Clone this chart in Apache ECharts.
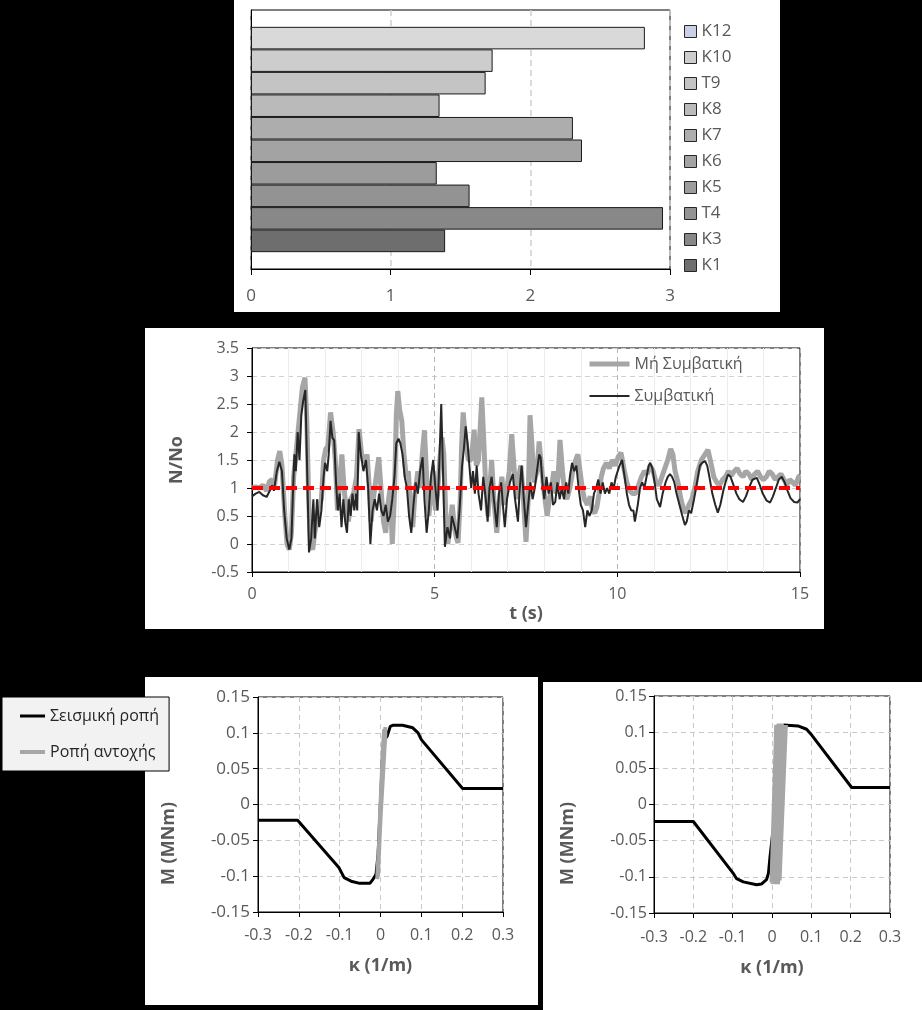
<!DOCTYPE html>
<html><head><meta charset="utf-8">
<script src="https://cdn.jsdelivr.net/npm/echarts@6/dist/echarts.min.js"></script>
<style>html,body{margin:0;padding:0;background:#000}#c{width:922px;height:1010px}</style>
</head><body><div id="c"></div><script>
const FONT = '"Open Sans", "Noto Sans", "DejaVu Sans", sans-serif';

// ---------- Panel 1: bars (top to bottom) ----------
const barNames  = ['K12','K10','T9','K8','K7','K6','K5','T4','K3','K1'];
const barValues = [2.82, 1.73, 1.68, 1.35, 2.305, 2.37, 1.33, 1.565, 2.95, 1.39];
const barColors = ['#d9d9d9','#cdcdcd','#c4c4c4','#bababa','#adadad','#a3a3a3','#9c9c9c','#939393','#888888','#6e6e6e'];

// ---------- Panel 2: N/No time histories ----------
const seriesNamesT = ['Μή Συμβατική','Συμβατική'];
const greyT = [[0,1.0],[0.1,1.02],[0.2,1.0],[0.3,1.05],[0.4,0.95],[0.48,1.12],[0.55,1.15],[0.62,1.05],[0.7,1.5],[0.76,1.66],[0.82,1.4],[0.9,0.5],[0.96,0.0],[1.02,-0.1],[1.08,0.2],[1.14,1.2],[1.2,1.6],[1.26,2.0],[1.32,2.4],[1.38,2.8],[1.45,2.97],[1.5,2.2],[1.55,0.8],[1.6,0.0],[1.66,-0.1],[1.72,0.2],[1.78,0.5],[1.84,0.7],[1.9,0.8],[1.96,1.5],[2.02,1.7],[2.08,1.75],[2.15,2.35],[2.22,2.0],[2.28,1.5],[2.34,0.6],[2.4,1.1],[2.46,1.6],[2.52,1.0],[2.58,0.6],[2.64,0.4],[2.7,0.8],[2.78,0.9],[2.86,1.2],[2.93,2.05],[3.0,1.6],[3.08,1.45],[3.15,1.6],[3.2,1.1],[3.26,0.4],[3.32,0.8],[3.4,1.2],[3.47,1.55],[3.53,1.0],[3.6,0.4],[3.66,0.2],[3.72,0.7],[3.78,1.0],[3.84,0.0],[3.9,0.9],[3.95,2.3],[3.99,2.73],[4.04,2.4],[4.1,2.2],[4.16,1.6],[4.22,1.2],[4.28,1.3],[4.34,0.6],[4.4,0.3],[4.46,0.9],[4.54,1.3],[4.6,1.0],[4.66,1.6],[4.72,2.03],[4.78,1.2],[4.84,0.5],[4.9,0.9],[4.96,1.3],[5.02,0.6],[5.08,0.9],[5.14,1.5],[5.2,1.9],[5.25,1.6],[5.3,0.6],[5.36,0.0],[5.42,0.3],[5.48,0.7],[5.54,0.3],[5.6,0.1],[5.64,0.02],[5.7,0.8],[5.74,1.8],[5.78,2.35],[5.84,1.9],[5.92,1.5],[6.0,1.5],[6.08,2.04],[6.14,1.4],[6.2,1.5],[6.24,2.0],[6.29,2.62],[6.34,1.9],[6.4,1.0],[6.46,0.5],[6.56,1.5],[6.62,0.8],[6.7,0.2],[6.76,0.7],[6.84,1.2],[6.9,0.7],[6.96,0.9],[7.04,1.3],[7.11,1.96],[7.18,1.3],[7.24,0.8],[7.3,1.2],[7.36,1.4],[7.42,0.9],[7.5,0.04],[7.56,0.8],[7.61,2.3],[7.66,1.8],[7.72,1.1],[7.8,1.3],[7.86,1.83],[7.92,1.4],[8.0,0.9],[8.08,0.5],[8.14,0.8],[8.2,1.0],[8.26,1.3],[8.32,0.9],[8.38,1.2],[8.43,1.86],[8.5,1.3],[8.56,0.9],[8.62,0.8],[8.7,1.0],[8.78,1.3],[8.86,1.5],[8.92,1.6],[8.98,1.3],[9.04,1.0],[9.1,0.8],[9.18,0.7],[9.26,0.85],[9.32,0.6],[9.38,0.55],[9.44,0.66],[9.5,0.9],[9.56,1.2],[9.62,1.35],[9.7,1.45],[9.78,1.35],[9.86,1.5],[9.94,1.4],[10.02,1.55],[10.1,1.63],[10.18,1.35],[10.26,1.1],[10.34,0.95],[10.42,0.9],[10.5,0.9],[10.58,1.05],[10.66,1.2],[10.74,1.3],[10.82,1.25],[10.9,1.4],[10.98,1.3],[11.06,1.1],[11.14,1.05],[11.22,1.2],[11.3,1.35],[11.38,1.5],[11.46,1.7],[11.52,1.6],[11.58,1.3],[11.66,1.1],[11.74,0.8],[11.82,0.6],[11.88,0.56],[11.96,0.7],[12.04,0.8],[12.12,1.0],[12.2,1.3],[12.3,1.5],[12.4,1.6],[12.48,1.68],[12.56,1.45],[12.64,1.2],[12.72,1.1],[12.8,1.05],[12.88,1.15],[12.96,1.2],[13.04,1.3],[13.12,1.22],[13.2,1.3],[13.28,1.35],[13.36,1.25],[13.44,1.2],[13.52,1.3],[13.6,1.25],[13.68,1.15],[13.76,1.25],[13.84,1.3],[13.92,1.2],[14.0,1.15],[14.08,1.2],[14.16,1.3],[14.24,1.25],[14.32,1.15],[14.4,1.2],[14.48,1.25],[14.56,1.15],[14.64,1.05],[14.72,1.15],[14.8,1.1],[14.88,1.05],[14.96,1.2],[15.0,1.22]];
const blackT = [[0,0.85],[0.1,0.9],[0.2,0.93],[0.3,0.87],[0.4,0.84],[0.5,0.97],[0.55,1.05],[0.6,0.95],[0.68,1.3],[0.75,1.47],[0.82,1.3],[0.88,0.6],[0.95,0.1],[1.02,-0.1],[1.08,0.1],[1.12,0.9],[1.16,1.6],[1.2,1.3],[1.25,2.0],[1.3,1.5],[1.35,2.3],[1.4,2.55],[1.46,2.75],[1.5,1.6],[1.56,-0.15],[1.62,0.1],[1.68,0.8],[1.72,0.1],[1.78,0.8],[1.84,0.3],[1.9,0.6],[1.96,1.2],[2.0,1.45],[2.06,1.3],[2.1,1.6],[2.15,2.2],[2.2,1.9],[2.25,1.85],[2.3,1.1],[2.35,0.6],[2.4,0.9],[2.45,0.3],[2.5,0.8],[2.55,0.4],[2.6,0.2],[2.65,0.8],[2.7,0.5],[2.75,0.9],[2.8,0.6],[2.85,0.9],[2.88,0.6],[2.92,2.0],[2.98,1.6],[3.05,1.3],[3.12,1.5],[3.18,1.0],[3.24,0.0],[3.3,0.6],[3.36,0.8],[3.42,0.6],[3.48,0.9],[3.54,0.6],[3.6,0.5],[3.66,0.7],[3.72,0.4],[3.78,0.5],[3.84,0.8],[3.9,1.2],[3.95,1.8],[4.01,1.88],[4.06,1.8],[4.12,1.6],[4.18,1.2],[4.24,1.0],[4.3,0.5],[4.36,0.2],[4.42,0.7],[4.48,1.1],[4.54,0.9],[4.6,1.3],[4.67,1.55],[4.72,0.8],[4.78,0.2],[4.84,0.6],[4.9,1.2],[4.96,1.5],[5.02,1.0],[5.08,0.6],[5.13,1.5],[5.18,2.5],[5.22,1.5],[5.28,-0.05],[5.35,0.3],[5.42,0.1],[5.47,0.5],[5.55,0.3],[5.62,0.1],[5.68,0.6],[5.75,1.4],[5.8,1.7],[5.85,2.1],[5.9,1.8],[5.95,1.4],[6.0,1.0],[6.05,1.3],[6.1,0.9],[6.15,1.4],[6.2,0.9],[6.27,0.6],[6.33,1.2],[6.4,0.8],[6.45,0.4],[6.5,1.0],[6.56,1.2],[6.62,0.8],[6.7,0.3],[6.76,0.9],[6.82,1.1],[6.88,0.6],[6.92,0.3],[6.98,0.8],[7.06,1.1],[7.14,1.25],[7.2,0.8],[7.28,0.4],[7.33,1.0],[7.38,1.4],[7.44,0.8],[7.5,0.3],[7.56,0.7],[7.62,1.1],[7.68,0.8],[7.74,1.0],[7.8,1.3],[7.86,1.6],[7.9,1.55],[7.95,1.1],[8.0,0.8],[8.06,1.2],[8.12,0.9],[8.18,1.1],[8.24,0.7],[8.3,0.75],[8.36,1.1],[8.42,0.8],[8.48,1.0],[8.54,0.8],[8.6,1.1],[8.66,0.9],[8.7,1.2],[8.76,1.45],[8.82,1.3],[8.88,1.4],[8.94,1.0],[9.0,0.7],[9.06,0.6],[9.12,0.3],[9.18,0.6],[9.24,0.5],[9.3,0.6],[9.36,0.9],[9.42,1.0],[9.48,1.15],[9.54,0.9],[9.6,1.1],[9.66,0.9],[9.72,1.0],[9.78,0.9],[9.84,1.1],[9.9,1.0],[9.96,1.2],[10.06,1.4],[10.13,1.5],[10.2,1.2],[10.26,0.9],[10.32,0.7],[10.38,0.6],[10.44,0.6],[10.48,0.4],[10.56,0.7],[10.62,1.0],[10.68,1.1],[10.74,1.0],[10.8,1.2],[10.86,1.4],[10.9,1.45],[10.96,1.35],[11.02,1.1],[11.08,0.8],[11.17,0.66],[11.24,0.9],[11.32,1.1],[11.38,1.2],[11.44,1.25],[11.5,1.2],[11.56,1.1],[11.62,0.9],[11.7,0.7],[11.78,0.5],[11.85,0.34],[11.9,0.4],[11.96,0.6],[12.02,0.55],[12.1,0.8],[12.18,1.1],[12.26,1.4],[12.32,1.45],[12.4,1.48],[12.46,1.4],[12.52,1.2],[12.6,0.9],[12.68,0.7],[12.75,0.56],[12.82,0.7],[12.9,0.95],[12.96,1.1],[13.03,1.24],[13.1,1.2],[13.18,1.05],[13.26,0.9],[13.34,0.8],[13.44,0.75],[13.52,0.85],[13.6,1.0],[13.7,1.15],[13.82,1.18],[13.9,1.05],[13.98,0.9],[14.08,0.78],[14.18,0.74],[14.26,0.85],[14.34,1.0],[14.42,1.15],[14.5,1.2],[14.58,1.1],[14.66,0.95],[14.74,0.82],[14.84,0.75],[14.93,0.74],[15.0,0.8]];
const refLine = [[0,1],[15,1]];

// ---------- Panels 3 & 4: moment-curvature ----------
const seriesNamesM = ['Σεισμική ροπή','Ροπή αντοχής'];
const blackM1 = [[-0.3,-0.022],[-0.203,-0.022],[-0.102,-0.088],[-0.089,-0.102],[-0.072,-0.107],[-0.051,-0.11],[-0.026,-0.11],[-0.018,-0.104],[-0.011,-0.0975],[-0.006,-0.07],[-0.002,-0.02],[0.002,0.03],[0.004,0.06],[0.008,0.09],[0.016,0.095],[0.024,0.109],[0.03,0.1105],[0.054,0.1105],[0.079,0.107],[0.092,0.1],[0.1,0.0905],[0.201,0.0223],[0.3,0.0223]];
const greyM1 = [[-0.006,-0.1],[-0.002,-0.04],[0.0,0.0],[0.003,0.04],[0.006,0.08],[0.009,0.105],[0.012,0.1],[0.007,0.05],[0.002,0.0],[-0.003,-0.05],[-0.007,-0.09],[-0.008,-0.104],[-0.004,-0.07],[0.0,-0.02],[0.004,0.03],[0.008,0.07],[0.012,0.108],[0.01,0.09],[0.004,0.04],[-0.001,-0.01],[-0.005,-0.08],[-0.003,-0.06],[0.002,0.02],[0.006,0.06],[0.01,0.1]];
const blackM2 = [[-0.3,-0.0235],[-0.2,-0.0235],[-0.099,-0.0948],[-0.09,-0.1026],[-0.073,-0.107],[-0.039,-0.111],[-0.027,-0.11],[-0.014,-0.104],[-0.009,-0.095],[-0.005,-0.072],[0.01,0.0],[0.03,0.11],[0.034,0.112],[0.066,0.1086],[0.088,0.104],[0.101,0.096],[0.2025,0.0235],[0.3,0.0235]];
const greyM2 = [[0.0,-0.108],[0.012,0.11],[0.003,-0.11],[0.018,0.112],[0.006,-0.11],[0.024,0.112],[0.01,-0.108],[0.03,0.11],[0.014,-0.11],[0.034,0.11],[0.018,-0.105],[0.028,0.108],[0.008,-0.1],[0.02,0.1],[0.002,-0.09],[0.016,0.105],[0.012,-0.11],[0.026,0.11],[0.005,-0.105],[0.022,0.108]];

const LBL = '#595959';
const fmt2 = v => String(Math.round(v * 100) / 100);

function valAxis(grid, o) {
  return Object.assign({
    type: 'value', gridIndex: grid,
    axisLine: { show: true, onZero: false, lineStyle: { color: '#000', width: 1 } },
    axisTick: { show: true, length: 5, lineStyle: { color: '#000' } },
    axisLabel: { color: LBL, fontSize: 16, fontFamily: FONT },
    splitLine: { show: true, lineStyle: { color: '#c8c8c8', type: [5, 4], width: 1 } },
    nameTextStyle: { color: LBL, fontSize: 18, fontWeight: 'bold', fontFamily: FONT },
    nameLocation: 'middle'
  }, o);
}
const nameStyleShift = { color: LBL, fontSize: 18, fontWeight: 'bold', fontFamily: FONT, padding: [0, 78, 0, 0] };

const chart = echarts.init(document.getElementById('c'), null, { renderer: 'canvas' });

const series = [];
barNames.forEach((n, i) => series.push({
  type: 'bar', name: n, xAxisIndex: 0, yAxisIndex: 0,
  data: [barValues[i]], barGap: '0%', barCategoryGap: '13%',
  itemStyle: { color: barColors[i], borderColor: '#1a1a1a', borderWidth: 1 },
  silent: true
}));
series.push({ type: 'line', name: seriesNamesT[0], xAxisIndex: 1, yAxisIndex: 1, data: greyT,
  symbol: 'none', lineStyle: { color: '#a6a6a6', width: 5 }, itemStyle: { color: '#a6a6a6' }, z: 2 });
series.push({ type: 'line', name: seriesNamesT[1], xAxisIndex: 1, yAxisIndex: 1, data: blackT,
  symbol: 'none', lineStyle: { color: '#262626', width: 2 }, itemStyle: { color: '#262626' }, z: 3 });
series.push({ type: 'line', name: 'ref', xAxisIndex: 1, yAxisIndex: 1, data: refLine,
  symbol: 'none', lineStyle: { color: '#ff0000', width: 4, type: [11, 6] }, z: 4 });
series.push({ type: 'line', name: seriesNamesM[0], xAxisIndex: 2, yAxisIndex: 2, data: blackM1,
  symbol: 'none', lineStyle: { color: '#000', width: 3 }, itemStyle: { color: '#000' }, z: 2 });
series.push({ type: 'line', name: seriesNamesM[1], xAxisIndex: 2, yAxisIndex: 2, data: greyM1,
  symbol: 'none', lineStyle: { color: '#a6a6a6', width: 4 }, itemStyle: { color: '#a6a6a6' }, z: 3 });
series.push({ type: 'line', name: seriesNamesM[0], xAxisIndex: 3, yAxisIndex: 3, data: blackM2,
  symbol: 'none', lineStyle: { color: '#000', width: 3 }, itemStyle: { color: '#000' }, z: 2 });
series.push({ type: 'line', name: seriesNamesM[1], xAxisIndex: 3, yAxisIndex: 3, data: greyM2,
  symbol: 'none', lineStyle: { color: '#a6a6a6', width: 5 }, itemStyle: { color: '#a6a6a6' }, z: 3 });

const panel = (x, y, w, h) => ({ type: 'rect', shape: { x, y, width: w, height: h }, style: { fill: '#fff' }, z: -100, silent: true });

chart.setOption({
  backgroundColor: '#000',
  animation: false,
  textStyle: { fontFamily: FONT },
  graphic: { elements: [panel(234, 0, 546, 312), panel(145, 328, 679, 301), panel(145, 677, 393, 328), panel(543, 682, 379, 328)] },
  grid: [
    { left: 251, top: 10, width: 419, height: 259, show: true, borderColor: '#000', borderWidth: 1 },
    { left: 252, top: 348, width: 548, height: 224, show: true, borderColor: '#000', borderWidth: 1 },
    { left: 258, top: 697, width: 245, height: 215, show: true, borderColor: '#000', borderWidth: 1 },
    { left: 654, top: 696, width: 236, height: 217, show: true, borderColor: '#000', borderWidth: 1 }
  ],
  xAxis: [
    valAxis(0, { min: 0, max: 3, interval: 1, axisTick: { show: true, length: 6, lineStyle: { color: '#000' } },
      axisLabel: { color: LBL, fontSize: 17, fontFamily: FONT, margin: 19 },
      splitLine: { show: true, lineStyle: { color: '#d0d0d0', type: [6, 4], width: 1.5 } } }),
    valAxis(1, { min: 0, max: 15, interval: 5, name: 't (s)', nameGap: 33,
      axisLabel: { color: LBL, fontSize: 16, fontFamily: FONT, margin: 14 },
      splitLine: { show: true, lineStyle: { color: '#b4b4b4', type: [5, 4], width: 1 } },
      minorTick: { show: false, splitNumber: 5 },
      minorSplitLine: { show: true, lineStyle: { color: '#ececec', width: 1 } } }),
    valAxis(2, { min: -0.3, max: 0.3, interval: 0.1, name: 'κ (1/m)', nameGap: 45,
      axisLabel: { color: LBL, fontSize: 16, fontFamily: FONT, margin: 15, formatter: fmt2 } }),
    valAxis(3, { min: -0.3, max: 0.3, interval: 0.1, name: 'κ (1/m)', nameGap: 46,
      axisLabel: { color: LBL, fontSize: 16, fontFamily: FONT, margin: 16, formatter: fmt2 } })
  ],
  yAxis: [
    { type: 'category', gridIndex: 0, data: [''], axisLine: { show: true, lineStyle: { color: '#000' } },
      axisTick: { show: false }, axisLabel: { show: false }, splitLine: { show: false } },
    valAxis(1, { min: -0.5, max: 3.5, interval: 0.5, name: 'N/No', nameGap: 66,
      axisLabel: { color: LBL, fontSize: 16, fontFamily: FONT, margin: 13 },
      splitLine: { show: true, lineStyle: { color: '#d0d0d0', type: [5, 4], width: 1 } } }),
    valAxis(2, { min: -0.15, max: 0.15, interval: 0.05, name: 'M (MNm)', nameGap: 80, nameTextStyle: nameStyleShift,
      axisLabel: { color: LBL, fontSize: 17, fontFamily: FONT, margin: 8, formatter: fmt2 } }),
    valAxis(3, { min: -0.15, max: 0.15, interval: 0.05, name: 'M (MNm)', nameGap: 77, nameTextStyle: nameStyleShift,
      axisLabel: { color: LBL, fontSize: 16, fontFamily: FONT, margin: 7, formatter: fmt2 } })
  ],
  legend: [
    { data: barNames.map(n => n === 'K12' ? { name: n, itemStyle: { color: '#c8d0e6' } } : n),
      orient: 'vertical', left: 679, top: 18, itemWidth: 12, itemHeight: 12, itemGap: 9, icon: 'rect',
      selectedMode: false,
      itemStyle: { borderColor: '#262626', borderWidth: 1 },
      textStyle: { color: LBL, fontSize: 17, lineHeight: 17, fontFamily: FONT } },
    { data: seriesNamesT, orient: 'vertical', left: 582, top: 351, itemWidth: 40, itemHeight: 12, itemGap: 16,
      selectedMode: false,
      itemStyle: { opacity: 0, borderWidth: 0 }, lineStyle: { width: 'inherit' },
      textStyle: { color: LBL, fontSize: 16, lineHeight: 16, fontFamily: FONT } },
    { data: seriesNamesM, orient: 'vertical', left: 2, top: 697, itemWidth: 25, itemHeight: 12, itemGap: 20,
      selectedMode: false, padding: [11, 10, 11, 16], backgroundColor: '#f2f2f2', borderColor: '#000', borderWidth: 1,
      itemStyle: { opacity: 0, borderWidth: 0 }, lineStyle: { width: 'inherit' },
      textStyle: { color: '#262626', fontSize: 16, lineHeight: 16, fontFamily: FONT } }
  ],
  series
});
</script></body></html>
